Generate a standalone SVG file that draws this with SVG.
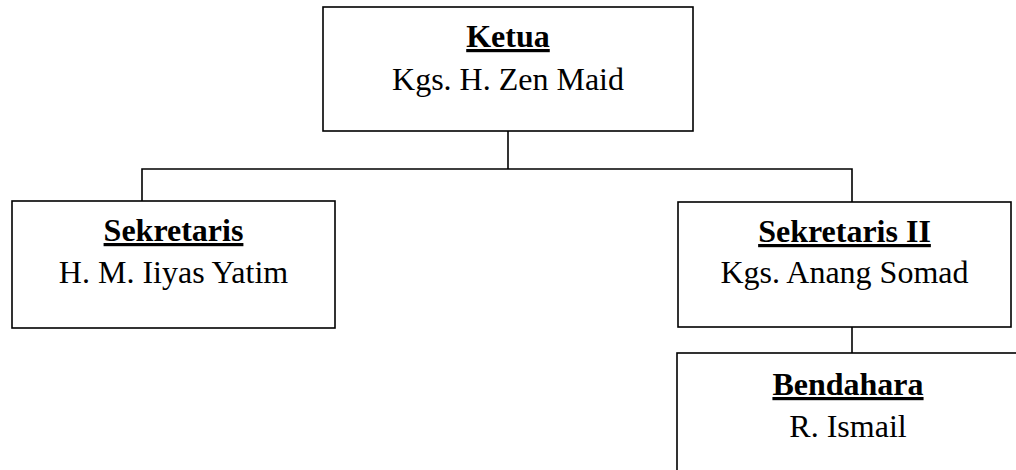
<svg xmlns="http://www.w3.org/2000/svg" width="1016" height="470" viewBox="0 0 1016 470">
<style>
.box{fill:#fff;stroke:#000;stroke-width:1.6}
.ln{fill:none;stroke:#000;stroke-width:1.6}
text{font-family:"Liberation Serif","Times New Roman",serif;font-size:32px;fill:#000;text-anchor:middle}
.t{font-weight:bold;text-decoration:underline}
</style>
<rect width="1016" height="470" fill="#fff"/>
<g id="connectors">
<line class="ln" x1="508" y1="131" x2="508" y2="169"/>
<polyline class="ln" points="142,201 142,169 852,169 852,202"/>
<line class="ln" x1="852" y1="327" x2="852" y2="353"/>
</g>
<g id="ketua">
<rect class="box" x="323" y="7" width="370" height="124"/>
<text class="t" x="508" y="47">Ketua</text>
<text x="508" y="90">Kgs. H. Zen Maid</text>
</g>
<g id="sekretaris">
<rect class="box" x="12" y="201" width="323" height="127"/>
<text class="t" x="173.5" y="241">Sekretaris</text>
<text x="173.5" y="283">H. M. Iiyas Yatim</text>
</g>
<g id="sekretaris2">
<rect class="box" x="678" y="202" width="333" height="125"/>
<text class="t" x="844.5" y="242">Sekretaris II</text>
<text x="844.5" y="283">Kgs. Anang Somad</text>
</g>
<g id="bendahara">
<rect class="box" x="677" y="353" width="342" height="130"/>
<text class="t" x="848" y="395">Bendahara</text>
<text x="848" y="437">R. Ismail</text>
</g>
</svg>
